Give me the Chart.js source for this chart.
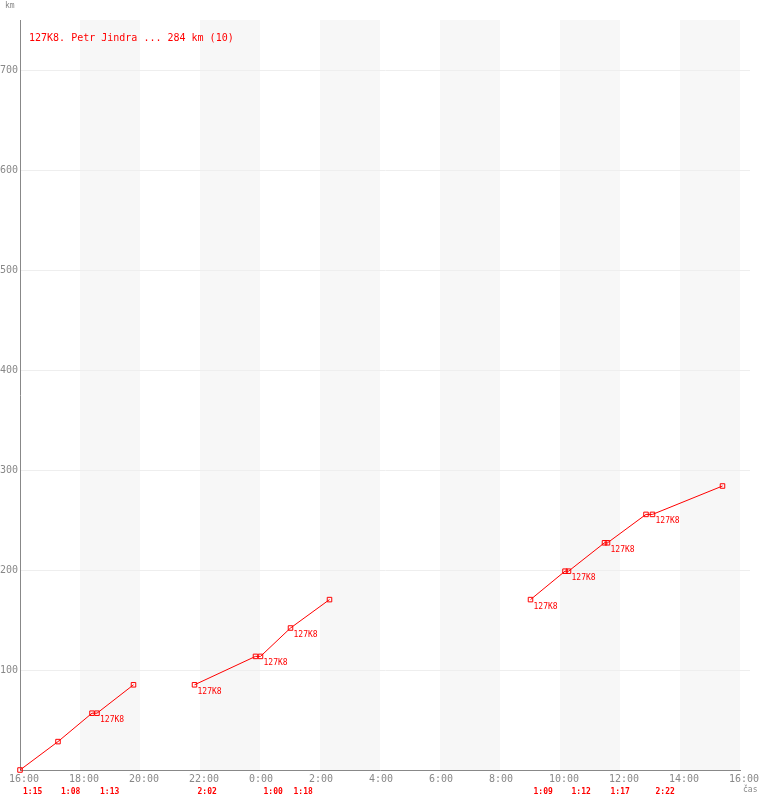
<!DOCTYPE html>
<html>
<head>
<meta charset="utf-8">
<script src="https://cdn.jsdelivr.net/npm/chart.js@4"></script>
<style>
  html, body { margin: 0; padding: 0; background: #fff; }
  canvas { display: block; }
</style>
</head>
<body>
<canvas id="chart" width="760" height="800"></canvas>
<script>
const title = '127K8. Petr Jindra ... 284 km (10)';

// checkpoint passages: time of day, distance, segment, label
const times = ['16:00', '17:16', '18:24', '18:34', '19:47',
               '21:49', '23:51', '0:01', '1:01', '2:19',
               '9:01', '10:10', '10:17', '11:29', '11:35', '12:52', '13:05', '15:25'];
const km = [0, 28.4, 56.8, 56.8, 85.2,
            85.2, 113.6, 113.6, 142, 170.4,
            170.4, 198.8, 198.8, 227.2, 227.2, 255.6, 255.6, 284];
const segment = [1, 1, 1, 1, 1,
                 2, 2, 2, 2, 2,
                 3, 3, 3, 3, 3, 3, 3, 3];
const pointLabels = ['', '', '', '127K8', '',
                     '127K8', '', '127K8', '127K8', '',
                     '127K8', '', '127K8', '', '127K8', '', '127K8', ''];

// leg durations shown under the axis
const legStart = ['16:00', '17:16', '18:34', '21:49', '0:01', '1:01', '9:01', '10:17', '11:35', '13:05'];
const legTimes = ['1:15', '1:08', '1:13', '2:02', '1:00', '1:18', '1:09', '1:12', '1:17', '2:22'];

const xTickLabels = ['16:00', '18:00', '20:00', '22:00', '0:00', '2:00', '4:00',
                     '6:00', '8:00', '10:00', '12:00', '14:00', '16:00'];
const yTicks = [100, 200, 300, 400, 500, 600, 700];
const bandStarts = ['18:00', '22:00', '2:00', '6:00', '10:00', '14:00'];

const MONO = '"DejaVu Sans Mono", "Liberation Mono", monospace';

// minutes since 16:00 of the first day
function toMin(t) {
    const [h, m] = t.split(':').map(Number);
    return ((h * 60 + m) - 960 + 1440) % 1440;
}

const datasets = [1, 2, 3].map(seg => ({
    data: times.map((t, i) => ({ x: toMin(t), y: km[i] }))
               .filter((p, i) => segment[i] === seg),
    borderColor: '#ff0000',
    borderWidth: 1,
    pointStyle: 'rect',
    pointRadius: 3.2,
    pointBorderWidth: 1,
    pointBorderColor: '#ff0000',
    pointBackgroundColor: 'rgba(255,255,255,0)',
    tension: 0,
    clip: false,
}));

const decor = {
    id: 'decor',
    beforeDraw(chart) {
        const { ctx, chartArea, scales } = chart;
        ctx.save();
        ctx.fillStyle = '#fff';
        ctx.fillRect(0, 0, chart.width, chart.height);
        ctx.fillStyle = '#f7f7f7';
        bandStarts.forEach(b => {
            const a = toMin(b);
            const x1 = scales.x.getPixelForValue(a);
            const x2 = scales.x.getPixelForValue(a + 120);
            ctx.fillRect(x1, chartArea.top, x2 - x1, chartArea.bottom - chartArea.top);
        });
        ctx.strokeStyle = '#eeeeee';
        ctx.lineWidth = 1;
        yTicks.forEach(v => {
            const y = Math.round(scales.y.getPixelForValue(v)) + 0.5;
            ctx.beginPath();
            ctx.moveTo(chartArea.left + 1, y);
            ctx.lineTo(chartArea.right + 10, y);
            ctx.stroke();
        });
        ctx.restore();
    },
    afterDatasetsDraw(chart) {
        const { ctx, scales } = chart;
        ctx.save();
        ctx.fillStyle = '#ff0000';
        ctx.textAlign = 'left';
        ctx.textBaseline = 'middle';
        ctx.font = '10px ' + MONO;
        ctx.fillText(title, 29, 38);

        ctx.font = '8px ' + MONO;
        times.forEach((t, i) => {
            if (!pointLabels[i]) return;
            const x = scales.x.getPixelForValue(toMin(t));
            const y = scales.y.getPixelForValue(km[i]);
            ctx.fillText(pointLabels[i], x + 3, y + 7);
        });

        ctx.font = 'bold 8px ' + MONO;
        legStart.forEach((t, i) => {
            const x = scales.x.getPixelForValue(toMin(t));
            ctx.fillText(legTimes[i], x + 3, 792);
        });

        ctx.fillStyle = '#888';
        ctx.font = '8px ' + MONO;
        ctx.fillText('km', 5, 6);
        ctx.fillText('čas', 743, 790);
        ctx.restore();
    }
};

new Chart(document.getElementById('chart'), {
    type: 'line',
    data: { datasets },
    options: {
        responsive: false,
        animation: false,
        devicePixelRatio: 1,
        layout: { padding: { top: 20, right: 20, bottom: 0, left: 0 } },
        plugins: { legend: { display: false }, tooltip: { enabled: false } },
        scales: {
            x: {
                type: 'linear',
                min: 0,
                max: 1440,
                afterBuildTicks: s => { s.ticks = xTickLabels.map((l, i) => ({ value: i * 120 })); },
                afterFit: s => { s.height = 30; s.paddingLeft = 0; s.paddingRight = 0; },
                grid: { display: false, drawTicks: false },
                border: { color: '#888', width: 1 },
                ticks: {
                    color: '#888',
                    font: { family: MONO, size: 10 },
                    padding: 3,
                    align: 'start',
                    labelOffset: -11,
                    maxRotation: 0,
                    autoSkip: false,
                    callback: (v, i) => xTickLabels[i],
                },
            },
            y: {
                type: 'linear',
                min: 0,
                max: 750,
                afterBuildTicks: s => { s.ticks = yTicks.map(v => ({ value: v })); },
                afterFit: s => { s.width = 20; s.paddingTop = 0; s.paddingBottom = 0; },
                grid: { display: false, drawTicks: false },
                border: { color: '#888', width: 1 },
                ticks: {
                    color: '#888',
                    font: { family: MONO, size: 10 },
                    padding: 2,
                },
            },
        },
    },
    plugins: [decor],
});
</script>
</body>
</html>
